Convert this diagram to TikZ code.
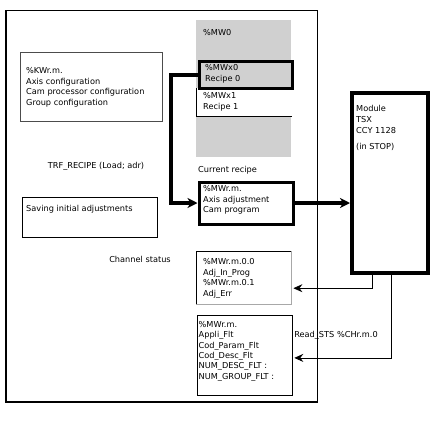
\documentclass[tikz,border=0pt]{standalone}
\usepackage{fontspec}
\setmainfont{DejaVu Sans}
\usetikzlibrary{arrows.meta,calc}
\definecolor{memgray}{HTML}{D0D0D0}
\definecolor{edgegray}{HTML}{A8A8A8}
\tikzset{
  box/.style={draw, line width=0.8pt, anchor=north west, inner sep=0pt},
  thickbox/.style={draw, line width=3pt, anchor=north west, inner sep=0pt},
  txt/.style={anchor=north west, inner sep=0pt, align=left, font=\fontsize{8.2}{10.8}\selectfont},
  lbl/.style={inner sep=0pt, font=\fontsize{8.2}{10.8}\selectfont},
  bigarrow/.style={line width=4pt, -{Stealth[length=10pt,width=10pt,inset=3pt]}},
  smallarrow/.style={line width=0.8pt, -{Stealth[length=9pt,width=8pt,inset=3pt]}},
}
\begin{document}
\begin{tikzpicture}[x=1pt,y=-1pt]
\useasboundingbox (0,0) rectangle (440,424);
% outer frame
\draw[line width=0.8pt] (6,402) -- (6,10.5) -- (317,10.5) -- (317,402);
\draw[line width=2pt] (6,10) -- (6,402) -- (317.5,402);
% memory column
\node[anchor=north west, inner sep=0pt, minimum width=95pt, minimum height=137pt, fill=memgray] (mem) at (196,20) {};
\node[anchor=west, lbl] (mw0) at (203,33) {\%MW0};
\node[anchor=north west, inner sep=0pt, minimum width=95.5pt, minimum height=28pt, fill=white] (rec1) at (196,88) {};
\draw[line width=0.8pt] (rec1.north west) -- (rec1.south west) -- (rec1.south east);
\node[txt] (rec1t) at (203,92.5) {\%MWx1\\Recipe 1};
\node[thickbox, minimum width=93pt, minimum height=27pt] (rec0) at (197.5,60) {};
\node[txt] (rec0t) at (205,64) {\%MWx0\\Recipe 0};
% current recipe
\node[anchor=west, lbl] (curl) at (198,170) {Current recipe};
\node[thickbox, minimum width=94.5pt, minimum height=42pt] (cur) at (197.5,180.5) {};
\node[txt] (curt) at (203,185) {\%MWr.m.\\Axis adjustment\\Cam program};
% module
\node[draw, line width=4pt, anchor=north west, inner sep=0pt, minimum width=76pt, minimum height=180pt] (mod) at (350,91) {};
\node[txt] (modt) at (356,105) {Module\\TSX\\CCY 1128\\[6pt](in STOP)};
% left boxes
\node[draw=black!70, line width=0.6pt, anchor=north west, inner sep=0pt, minimum width=142pt, minimum height=69pt] (kw) at (19.5,51.5) {};
\node[txt] (kwt) at (26,67) {\%KWr.m.\\Axis configuration\\Cam processor configuration\\Group configuration};
\node[lbl] (trf) at (96,166) {TRF\_RECIPE (Load; adr)};
\node[draw, line width=0.6pt, anchor=north west, inner sep=0pt, minimum width=135pt, minimum height=40pt] (save) at (21.5,196.5) {};
\node[anchor=west, lbl] (savet) at (26,209) {Saving initial adjustments};
% channel status
\node[lbl] (chs) at (140,259) {Channel status};
\node[anchor=north west, inner sep=0pt, minimum width=95pt, minimum height=53pt] (stat) at (196,251) {};
\draw[edgegray, line width=0.8pt] (stat.north east) -- (stat.south east) -- (stat.south west);
\draw[line width=0.8pt] (stat.south west) -- (stat.north west) -- (stat.north east);
\node[txt] (statt) at (203,258) {\%MWr.m.0.0\\Adj\_In\_Prog\\\%MWr.m.0.1\\Adj\_Err};
\node[box, minimum width=95pt, minimum height=80pt] (flt) at (196.5,314.5) {};
\node[txt, font=\fontsize{8.2}{10.4}\selectfont] (fltt) at (198.5,321) {\%MWr.m.\\Appli\_Flt\\Cod\_Param\_Flt\\Cod\_Desc\_Flt\\NUM\_DESC\_FLT :\\NUM\_GROUP\_FLT :};
\node[lbl] (rsts) at (336,335) {Read\_STS \%CHr.m.0};
% connectors
\draw[bigarrow] (rec0.west) -- ++(-26.5,0) |- (cur.west);
\draw[bigarrow] (cur.east) -- (mod.west |- cur.east);
\draw[smallarrow] ($(mod.south west)+(22,0)$) |- ($(stat.east)+(2,10.5)$);
\draw[smallarrow] ($(mod.south west)+(41,0)$) |- ($(flt.east)+(2,3)$);
\end{tikzpicture}
\end{document}
